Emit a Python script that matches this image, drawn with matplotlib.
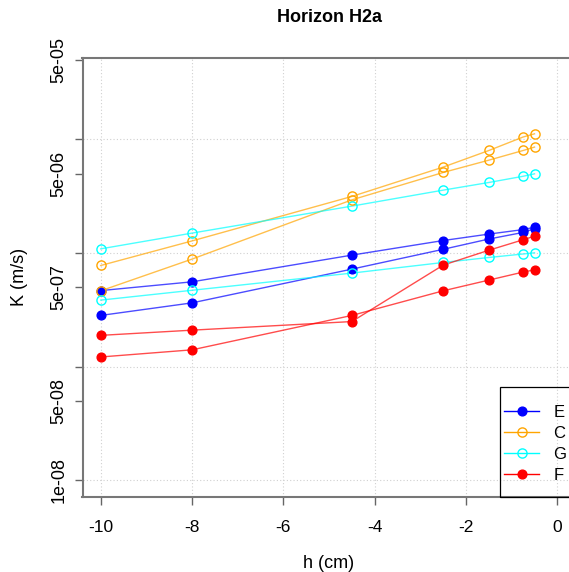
import matplotlib
matplotlib.use('Agg')
import matplotlib.pyplot as plt
from matplotlib.patches import Rectangle

plt.rcParams['font.family'] = ['Liberation Sans', 'DejaVu Sans']

# ---- data ----
h = [-10, -8, -4.5, -2.5, -1.5, -0.75, -0.5]
E1 = [4.68e-7, 5.59e-7, 9.60e-7, 1.29e-6, 1.47e-6, 1.61e-6, 1.69e-6]
E2 = [2.83e-7, 3.65e-7, 7.23e-7, 1.08e-6, 1.33e-6, 1.52e-6, 1.64e-6]
C1 = [7.78e-7, 1.28e-6, 3.15e-6, 5.71e-6, 7.99e-6, 1.05e-5, 1.12e-5]
C2 = [4.66e-7, 8.86e-7, 2.94e-6, 5.12e-6, 6.57e-6, 7.99e-6, 8.56e-6]
G1 = [1.09e-6, 1.50e-6, 2.59e-6, 3.58e-6, 4.18e-6, 4.74e-6, 4.98e-6]
G2 = [3.86e-7, 4.71e-7, 6.67e-7, 8.27e-7, 9.15e-7, 9.82e-7, 1.006e-6]
F1 = [1.89e-7, 2.10e-7, 2.50e-7, 7.84e-7, 1.06e-6, 1.31e-6, 1.41e-6]
F2 = [1.22e-7, 1.41e-7, 2.83e-7, 4.66e-7, 5.79e-7, 6.81e-7, 7.13e-7]

groups = ['E', 'C', 'G', 'F']
group_data = {'E': [E1, E2], 'C': [C1, C2], 'G': [G1, G2], 'F': [F1, F2]}
group_color = {'E': '#0000FF', 'C': '#FFA500', 'G': '#00FFFF', 'F': '#FF0000'}
group_filled = {'E': True, 'C': False, 'G': False, 'F': True}

xticks = [-10, -8, -6, -4, -2, 0]
xtick_labels = ['-10', '-8', '-6', '-4', '-2', '0']
yticks = [1e-8, 5e-8, 1e-7, 5e-7, 1e-6, 5e-6, 1e-5, 5e-5]
ytick_labels = ['1e-08', '5e-08', '', '5e-07', '', '5e-06', '', '5e-05']
ygrid = [1e-8, 1e-7, 1e-6, 1e-5]

W, H = 569, 572
fig = plt.figure(figsize=(W / 100, H / 100), dpi=100)
ax_l, ax_r, ax_t, ax_b = 82.5, 575.6, 58.3, 496.7
ax = fig.add_axes([ax_l / W, 1 - ax_b / H, (ax_r - ax_l) / W, (ax_b - ax_t) / H])

ax.set_yscale('log')
ax.set_xlim(-10.4, 0.4)
ax.set_ylim(7.2e-9, 5.17e-5)

grid_kw = dict(color='#d0d0d0', lw=0.8, linestyle=(0, (1, 2)), zorder=0)
for x in xticks:
    ax.axvline(x, **grid_kw)
for y in ygrid:
    ax.axhline(y, **grid_kw)

handles = []
for g in groups:
    col = group_color[g]
    for i, series in enumerate(group_data[g]):
        ax.plot(h, series, color=col, lw=1.0, alpha=0.7, zorder=2)
        ax.plot(h, series, linestyle='none', marker='o',
                markersize=6.3 if group_filled[g] else 6.6,
                markerfacecolor=col if group_filled[g] else 'none',
                markeredgecolor=col, markeredgewidth=1.0, zorder=3)
    hd, = ax.plot([], [], color=col, lw=1.0, alpha=1.0, marker='o',
                  markersize=6.3 if group_filled[g] else 6.6,
                  markerfacecolor=col if group_filled[g] else 'none',
                  markeredgecolor=col, markeredgewidth=1.0)
    handles.append(hd)

ax.set_xticks(xticks)
ax.set_xticklabels(xtick_labels)
ax.set_yticks(yticks)
ax.set_yticklabels(ytick_labels)
ax.minorticks_off()
ax.yaxis.set_minor_locator(matplotlib.ticker.NullLocator())

for sp in ax.spines.values():
    sp.set_color('#777777')
    sp.set_linewidth(1.5)

ax.tick_params(axis='both', direction='out', length=6, width=1.0, color='#666666',
               labelcolor='black')
ax.tick_params(axis='x', pad=11, labelsize=12.5)
ax.tick_params(axis='y', pad=5, labelrotation=90, labelsize=13)
for lab in ax.get_yticklabels():
    lab.set_verticalalignment('center')

# legend
leg = ax.legend(handles=handles, labels=groups, loc='upper left',
                bbox_to_anchor=((504 - ax_l) / (ax_r - ax_l), (ax_b - 405.0) / (ax_b - ax_t)),
                frameon=False, borderpad=0, borderaxespad=0, fontsize=12,
                handlelength=2.1, handletextpad=0.85, labelspacing=0.36, numpoints=1)
ax.add_patch(Rectangle(((500 - ax_l) / (ax_r - ax_l), 0), 1 - (500 - ax_l) / (ax_r - ax_l),
                       (ax_b - 387) / (ax_b - ax_t), transform=ax.transAxes,
                       facecolor='none', edgecolor='black', lw=0.9, zorder=5, clip_on=False))

fig.text(329.5 / W, 1 - 18 / H, 'Horizon H2a', ha='center', va='center',
         fontsize=13, fontweight='bold')
fig.text(329 / W, 1 - 564 / H, 'h (cm)', ha='center', va='center', fontsize=13)
fig.text(20 / W, 1 - 277 / H, 'K (m/s)', ha='center', va='center', fontsize=13,
         rotation=90)

fig.savefig('out.png', dpi=100)
